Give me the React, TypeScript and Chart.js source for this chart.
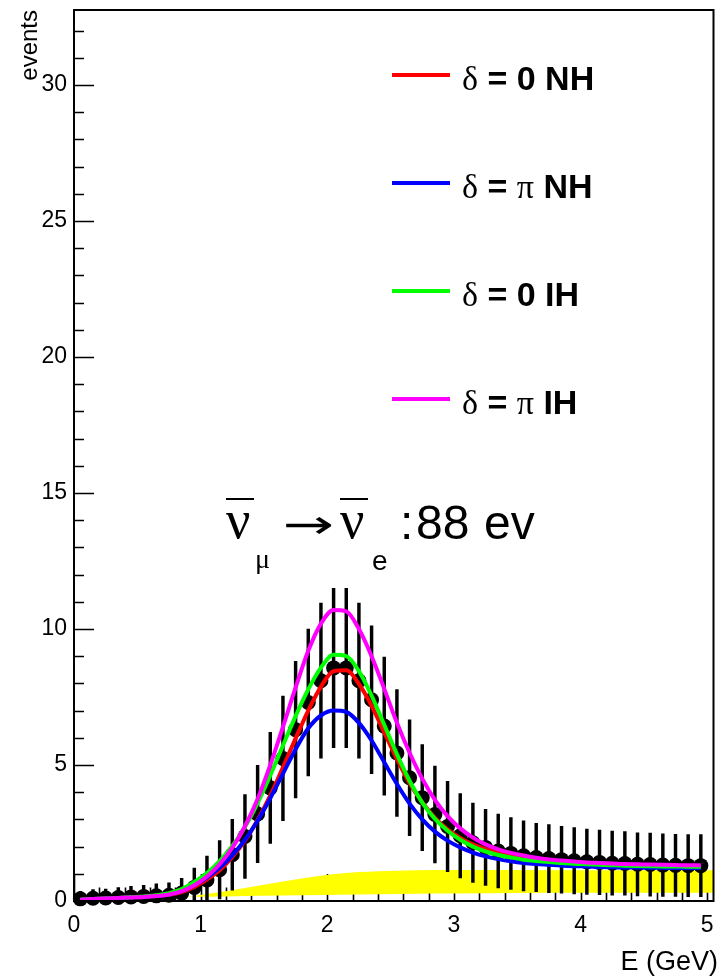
import { useEffect, useRef } from 'react';
import { Chart, registerables } from 'chart.js';

Chart.register(...registerables);

const SANS = '"Liberation Sans", Arial, Helvetica, sans-serif';
const SERIF = '"Liberation Serif", "Times New Roman", serif';

// bin centres (GeV)
const xBins = [
  0.05, 0.15, 0.25, 0.35, 0.45, 0.55, 0.65, 0.75, 0.85, 0.95,
  1.05, 1.15, 1.25, 1.35, 1.45, 1.55, 1.65, 1.75, 1.85, 1.95,
  2.05, 2.15, 2.25, 2.35, 2.45, 2.55, 2.65, 2.75, 2.85, 2.95,
  3.05, 3.15, 3.25, 3.35, 3.45, 3.55, 3.65, 3.75, 3.85, 3.95,
  4.05, 4.15, 4.25, 4.35, 4.45, 4.55, 4.65, 4.75, 4.85, 4.95,
];

// pseudo-data (black points)
const dataValues = [
  0.08, 0.1, 0.11, 0.13, 0.15, 0.17, 0.19, 0.21, 0.29, 0.5,
  0.77, 1.15, 1.7, 2.37, 3.2, 4.16, 5.24, 6.3, 7.3, 8.1,
  8.57, 8.57, 8.1, 7.4, 6.43, 5.44, 4.53, 3.8, 3.18, 2.74,
  2.4, 2.14, 1.97, 1.84, 1.75, 1.66, 1.6, 1.56, 1.52, 1.48,
  1.44, 1.42, 1.39, 1.38, 1.35, 1.34, 1.32, 1.31, 1.3, 1.3,
];
const dataErrors = [
  0.28, 0.32, 0.33, 0.36, 0.39, 0.41, 0.44, 0.46, 0.54, 0.71,
  0.88, 1.07, 1.3, 1.54, 1.79, 2.04, 2.29, 2.51, 2.7, 2.85,
  2.93, 2.93, 2.85, 2.72, 2.54, 2.33, 2.13, 1.95, 1.78, 1.66,
  1.55, 1.46, 1.4, 1.36, 1.32, 1.29, 1.26, 1.25, 1.23, 1.22,
  1.2, 1.19, 1.18, 1.17, 1.16, 1.16, 1.15, 1.14, 1.14, 1.14,
];

// predictions
const redNH0 = [
  0.05, 0.07, 0.09, 0.11, 0.13, 0.15, 0.18, 0.23, 0.33, 0.52,
  0.79, 1.13, 1.62, 2.22, 2.98, 3.88, 4.92, 5.98, 7.0, 7.88,
  8.45, 8.48, 7.98, 7.18, 6.2, 5.22, 4.33, 3.63, 3.06, 2.64,
  2.32, 2.08, 1.91, 1.78, 1.68, 1.6, 1.54, 1.49, 1.45, 1.42,
  1.39, 1.37, 1.35, 1.33, 1.31, 1.3, 1.29, 1.28, 1.27, 1.27,
];
const blueNHpi = [
  0.05, 0.07, 0.09, 0.11, 0.13, 0.15, 0.18, 0.24, 0.36, 0.58,
  0.86, 1.22, 1.68, 2.25, 2.95, 3.78, 4.68, 5.58, 6.35, 6.82,
  7.0, 6.95, 6.55, 5.9, 5.1, 4.3, 3.58, 3.0, 2.55, 2.22,
  1.97, 1.78, 1.64, 1.54, 1.46, 1.4, 1.36, 1.33, 1.3, 1.28,
  1.27, 1.25, 1.24, 1.23, 1.23, 1.22, 1.22, 1.21, 1.21, 1.21,
];
const greenIH0 = [
  0.05, 0.07, 0.09, 0.11, 0.14, 0.17, 0.21, 0.29, 0.44, 0.7,
  1.03, 1.47, 2.02, 2.72, 3.6, 4.62, 5.72, 6.8, 7.78, 8.58,
  9.05, 9.0, 8.45, 7.55, 6.48, 5.4, 4.42, 3.62, 3.02, 2.58,
  2.25, 2.0, 1.82, 1.69, 1.6, 1.52, 1.47, 1.43, 1.4, 1.37,
  1.35, 1.33, 1.31, 1.3, 1.29, 1.28, 1.27, 1.27, 1.26, 1.26,
];
const magentaIHpi = [
  0.05, 0.07, 0.09, 0.11, 0.13, 0.15, 0.18, 0.24, 0.36, 0.58,
  0.9, 1.35, 1.95, 2.75, 3.75, 5.0, 6.4, 7.85, 9.2, 10.2,
  10.7, 10.65, 10.0, 9.0, 7.8, 6.55, 5.45, 4.5, 3.72, 3.12,
  2.67, 2.33, 2.08, 1.9, 1.77, 1.67, 1.59, 1.53, 1.49, 1.45,
  1.42, 1.4, 1.38, 1.36, 1.35, 1.34, 1.33, 1.32, 1.31, 1.31,
];

// background band (yellow)
const bandX = [0.9, 1.2, 1.5, 1.8, 2.1, 2.4, 2.7, 3.0, 3.5, 4.0, 4.5, 5.05];
const bandTop = [0.16, 0.36, 0.6, 0.83, 1.01, 1.09, 1.13, 1.14, 1.14, 1.13, 1.13, 1.13];
const bandBottom = [0.16, 0.17, 0.19, 0.21, 0.23, 0.25, 0.27, 0.28, 0.29, 0.3, 0.3, 0.3];

// axes
const xTickValues = [0, 1, 2, 3, 4, 5];
const xMinorTicks = [0.2, 0.4, 0.6, 0.8, 1.2, 1.4, 1.6, 1.8, 2.2, 2.4, 2.6, 2.8, 3.2, 3.4, 3.6, 3.8, 4.2, 4.4, 4.6, 4.8];
const yTickValues = [0, 5, 10, 15, 20, 25, 30];
const yMinorTicks = [1, 2, 3, 4, 6, 7, 8, 9, 11, 12, 13, 14, 16, 17, 18, 19, 21, 22, 23, 24, 26, 27, 28, 29, 31, 32];
const X_MAX = 5.05;
const Y_MAX = 32.76;

const xTitle = 'E (GeV)';
const yTitle = 'events';

// legend
const legendColors = ['#ff0000', '#0000ff', '#00ff00', '#ff00ff'];
const legendGreek = ['0', 'π', '0', 'π'];
const legendHier = ['NH', 'NH', 'IH', 'IH'];

const pts = (ys: number[], xs: number[] = xBins) => xs.map((x, i) => ({ x, y: ys[i] }));

const zeroPad = (s: any) => {
  s.paddingTop = 0;
  s.paddingBottom = 0;
  s.paddingLeft = 0;
  s.paddingRight = 0;
};

const rootPlugin = {
  id: 'rootStyle',
  beforeDatasetsDraw(chart: any) {
    const { ctx, chartArea, scales } = chart;
    const { left, bottom } = chartArea;
    const xs = scales.x;
    const ys = scales.y;
    ctx.save();
    ctx.strokeStyle = '#000';
    ctx.lineWidth = 1.6;
    ctx.beginPath();
    yTickValues.forEach((v) => {
      const p = Math.round(ys.getPixelForValue(v)) + 0.5;
      ctx.moveTo(left, p);
      ctx.lineTo(left + 20, p);
    });
    yMinorTicks.forEach((v) => {
      const p = Math.round(ys.getPixelForValue(v)) + 0.5;
      ctx.moveTo(left, p);
      ctx.lineTo(left + 10, p);
    });
    xTickValues.forEach((v) => {
      const p = Math.round(xs.getPixelForValue(v)) + 0.5;
      ctx.moveTo(p, bottom);
      ctx.lineTo(p, bottom - 27);
    });
    xMinorTicks.forEach((v) => {
      const p = Math.round(xs.getPixelForValue(v)) + 0.5;
      ctx.moveTo(p, bottom);
      ctx.lineTo(p, bottom - 13.5);
    });
    ctx.stroke();
    ctx.restore();
  },
  afterDatasetsDraw(chart: any) {
    const { ctx, chartArea } = chart;
    const { left, right, top, bottom } = chartArea;
    ctx.save();
    // frame
    ctx.strokeStyle = '#000';
    ctx.lineWidth = 2;
    ctx.strokeRect(left, top, right - left, bottom - top);

    // legend
    const rowY = [75, 183, 291, 399];
    ctx.fillStyle = '#000';
    ctx.textBaseline = 'alphabetic';
    rowY.forEach((yy, i) => {
      ctx.strokeStyle = legendColors[i];
      ctx.lineWidth = 4;
      ctx.beginPath();
      ctx.moveTo(392, yy);
      ctx.lineTo(450, yy);
      ctx.stroke();
      const base = yy + 15;
      let cx = 462;
      ctx.textAlign = 'left';
      ctx.font = `34px ${SERIF}`;
      ctx.fillText('δ', cx, base);
      cx += ctx.measureText('δ').width;
      ctx.font = `bold 34px ${SANS}`;
      ctx.fillText(' = ', cx, base);
      cx += ctx.measureText(' = ').width;
      if (legendGreek[i] === 'π') {
        ctx.font = `34px ${SERIF}`;
      }
      ctx.fillText(legendGreek[i], cx, base);
      cx += ctx.measureText(legendGreek[i]).width;
      ctx.font = `bold 34px ${SANS}`;
      ctx.fillText(' ' + legendHier[i], cx, base);
    });

    // annotation: anti-nu_mu -> anti-nu_e : 88 ev
    ctx.fillStyle = '#000';
    ctx.strokeStyle = '#000';
    ctx.textAlign = 'left';
    ctx.font = `54px ${SERIF}`;
    ctx.fillText('ν', 226, 538);
    ctx.fillText('ν', 340, 538);
    ctx.lineWidth = 2;
    ctx.beginPath();
    ctx.moveTo(226, 499);
    ctx.lineTo(254, 499);
    ctx.moveTo(340, 499);
    ctx.lineTo(368, 499);
    ctx.stroke();
    ctx.font = `28px ${SERIF}`;
    ctx.fillText('μ', 255, 568);
    ctx.font = `28px ${SANS}`;
    ctx.fillText('e', 372, 570);
    // arrow, ink stretched to the width seen in the reference
    ctx.save();
    ctx.font = `40px "DejaVu Sans", ${SANS}`;
    const m = ctx.measureText('→');
    const inkL = m.actualBoundingBoxLeft || 0;
    const inkW = (m.actualBoundingBoxRight || m.width) + inkL || 40;
    const sx = 46 / inkW;
    ctx.translate(286 + inkL * sx, 538);
    ctx.scale(sx, 1);
    ctx.fillText('→', 0, 0);
    ctx.restore();
    ctx.font = `48px ${SANS}`;
    ctx.fillText(':', 400, 539);
    ctx.fillText('88', 416, 539);
    ctx.fillText('ev', 484, 539);

    // axis titles
    ctx.font = `27px ${SANS}`;
    ctx.textAlign = 'right';
    ctx.fillText(xTitle, 718, 970);
    ctx.save();
    ctx.translate(37, 10);
    ctx.rotate(-Math.PI / 2);
    ctx.font = `24px ${SANS}`;
    ctx.textAlign = 'right';
    ctx.fillText(yTitle, 0, 0);
    ctx.restore();

    ctx.restore();
  },
};

export default function App() {
  const ref = useRef<HTMLCanvasElement>(null);
  useEffect(() => {
    document.body.style.margin = '0';
    const canvas = ref.current;
    if (!canvas) return;
    const curve = (label: string, ys: number[], color: string, order: number) => ({
      type: 'line' as const,
      label,
      data: pts(ys),
      borderColor: color,
      backgroundColor: color,
      borderWidth: 4,
      pointRadius: 0,
      fill: false,
      cubicInterpolationMode: 'monotone' as const,
      order,
    });
    const chart = new Chart(canvas, {
      type: 'line',
      data: {
        datasets: [
          {
            type: 'line',
            label: 'band low',
            data: pts(bandBottom, bandX),
            borderWidth: 0,
            borderColor: 'rgba(0,0,0,0)',
            pointRadius: 0,
            fill: false,
            cubicInterpolationMode: 'monotone',
            order: 8,
          },
          {
            type: 'line',
            label: 'band',
            data: pts(bandTop, bandX),
            borderWidth: 0,
            borderColor: 'rgba(0,0,0,0)',
            backgroundColor: '#ffff00',
            pointRadius: 0,
            fill: '-1',
            cubicInterpolationMode: 'monotone',
            order: 7,
          },
          {
            type: 'bar',
            label: 'errors',
            data: xBins.map((x, i) => ({ x, y: [dataValues[i] - dataErrors[i], dataValues[i] + dataErrors[i]] })),
            backgroundColor: '#000',
            borderWidth: 0,
            barThickness: 2.8,
            order: 6,
          } as any,
          {
            type: 'line',
            label: 'data',
            data: pts(dataValues),
            showLine: false,
            pointRadius: 7.5,
            pointBackgroundColor: '#000',
            pointBorderWidth: 0,
            borderColor: '#000',
            clip: false,
            order: 5,
          } as any,
          curve('δ = 0 NH', redNH0, '#ff0000', 4),
          curve('δ = π NH', blueNHpi, '#0000ff', 3),
          curve('δ = 0 IH', greenIH0, '#00ff00', 2),
          curve('δ = π IH', magentaIHpi, '#ff00ff', 1),
        ],
      },
      options: {
        animation: false,
        responsive: false,
        maintainAspectRatio: false,
        events: [],
        layout: { padding: { top: 10, right: 3, left: 0, bottom: 0 } },
        plugins: { legend: { display: false }, tooltip: { enabled: false } },
        scales: {
          x: {
            type: 'linear',
            min: 0,
            max: X_MAX,
            offset: false,
            grid: { display: false, drawTicks: false },
            border: { display: false },
            ticks: {
              font: { family: SANS, size: 23 },
              color: '#000',
              padding: 11,
              maxRotation: 0,
              autoSkip: false,
            },
            afterBuildTicks: (s: any) => {
              s.ticks = xTickValues.map((v) => ({ value: v }));
            },
            afterFit: (s: any) => {
              s.height = 76;
              zeroPad(s);
            },
          },
          y: {
            type: 'linear',
            min: 0,
            max: Y_MAX,
            grid: { display: false, drawTicks: false },
            border: { display: false },
            ticks: {
              font: { family: SANS, size: 23 },
              color: '#000',
              padding: 7,
            },
            afterBuildTicks: (s: any) => {
              s.ticks = yTickValues.map((v) => ({ value: v }));
            },
            afterFit: (s: any) => {
              s.width = 74;
              zeroPad(s);
            },
          },
        },
      },
      plugins: [rootPlugin],
    } as any);
    return () => chart.destroy();
  }, []);
  return (
    <div style={{ width: 721, height: 977 }}>
      <canvas ref={ref} width={721} height={977} style={{ display: 'block' }} />
    </div>
  );
}
